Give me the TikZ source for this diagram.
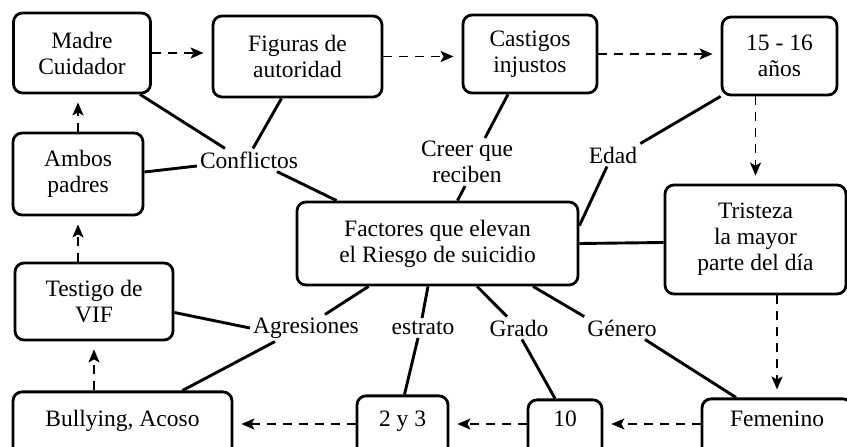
\documentclass[tikz,border=0pt]{standalone}
\usepackage{fontspec}
\setmainfont{Liberation Serif}
\usetikzlibrary{arrows.meta}

\tikzset{
  riesgo/.style={
    x=1pt, y=-1pt,
    every node/.style={font=\fontsize{23.5}{26}\selectfont, align=center},
    caja/.style={
        draw,
        line width=2.8pt,
        rounded corners=9pt,
        inner sep=4pt,
    },
    pie/.style={
        caja,
        anchor=mid,
        text depth=30pt,
    },
    etiqueta/.style={inner sep=3pt},
    liga/.style={line width=2.9pt},
    sigue/.style={
        line width=1.8pt,
        dash pattern=on 9pt off 7pt,
        -{Stealth[length=13pt,width=11pt,inset=3pt]},
        shorten >=8pt,
    }
  }
}

\begin{document}
\begin{tikzpicture}[riesgo]
    \useasboundingbox (0,0) rectangle (847,447);
    \clip (0,0) rectangle (847,447);

    % cajas de arriba
    \node[caja, minimum width=137pt, minimum height=80pt] (madre) at (82,53) {Madre\\Cuidador};
    \node[caja, minimum width=169pt, minimum height=81pt] (figuras) at (297.5,56.5) {Figuras de\\autoridad};
    \node[caja, minimum width=134pt, minimum height=78pt] (cast) at (530,54) {Castigos\\injustos};
    \node[caja, minimum width=115pt, minimum height=78pt] (edadbox) at (779.5,56) {15 - 16\\años};
    \node[caja, minimum width=130pt, minimum height=82pt] (ambos) at (78,174) {Ambos\\padres};
    \node[caja, minimum width=158pt, minimum height=77pt] (testigo) at (94,301.5) {Testigo de\\VIF};
    \node[caja, minimum width=281pt, minimum height=83pt] (fac) at (437.5,243.5) {Factores que elevan\\el Riesgo de suicidio};
    \node[caja, minimum width=181pt, minimum height=109pt] (trist) at (755.5,239.5) {Tristeza\\la mayor\\parte del día};

    % cajas de abajo
    \node[pie, minimum width=219pt, text height=30.4pt] (bully) at (122.5,424) {Bullying, Acoso};
    \node[pie, minimum width=91pt, text height=26.4pt] (dos) at (402.5,424) {2 y 3};
    \node[pie, minimum width=74pt, text height=22.4pt] (diez) at (565,424) {10};
    \node[pie, minimum width=150pt, text height=23.4pt] (fem) at (777,424) {Femenino};

    % etiquetas
    \node[etiqueta] (conf) at (249,160) {Conflictos};
    \node[etiqueta] (creer) at (467,162) {Creer que\\reciben};
    \node[etiqueta] (edad) at (613,155) {Edad};
    \node[etiqueta] (agr) at (306,328) {Agresiones};
    \node[etiqueta] (estr) at (423,328) {estrato};
    \node[etiqueta] (grado) at (519,328) {Grado};
    \node[etiqueta] (gen) at (622,328) {Género};

    % lineas
    \draw[liga] ([xshift=58pt]madre.south) -- ([xshift=-24pt]conf.north);
    \draw[liga] ([xshift=-16pt]figuras.south) -- ([xshift=4pt]conf.north);
    \draw[liga] ([yshift=2pt]ambos.east) -- ([yshift=-6pt]conf.west);
    \draw[liga] ([xshift=28pt]conf.south) -- ([xshift=41pt]fac.north west);
    \draw[liga] ([xshift=-22pt]cast.south) -- ([xshift=18pt]creer.north);
    \draw[liga] ([xshift=-2pt]creer.south) -- ([xshift=20pt]fac.north);
    \draw[liga] (edadbox.south west) -- (edad.north east);
    \draw[liga] ([xshift=-6pt]edad.south) -- ([yshift=-25pt]fac.north east);
    \draw[liga] (fac.east) -- ([yshift=-3pt]trist.west);
    \draw[liga] ([xshift=73pt]fac.south west) -- ([xshift=19pt]agr.north);
    \draw[liga] ([yshift=-11pt]testigo.east) -- (agr.west);
    \draw[liga] ([xshift=-31pt]agr.south) -- ([xshift=60pt]bully.north);
    \draw[liga] ([xshift=-9.5pt]fac.south) -- ([xshift=-1pt]estr.north);
    \draw[liga] ([xshift=-5pt]estr.south) -- ([xshift=2pt]dos.north);
    \draw[liga] ([xshift=39.5pt]fac.south) -- ([xshift=-12pt]grado.north);
    \draw[liga] ([xshift=3pt]grado.south) -- ([xshift=-10pt]diez.north);
    \draw[liga] ([xshift=95.5pt]fac.south) -- (gen.north west);
    \draw[liga] ([xshift=23pt]gen.south) -- ([xshift=-41pt]fem.north);

    % flechas
    \draw[sigue] (madre.east) -- (madre.east -| figuras.west);
    \draw[sigue] (figuras.east) -- (figuras.east -| cast.west);
    \draw[sigue] (cast.east) -- (cast.east -| edadbox.west);
    \draw[sigue] (trist.north |- edadbox.south) -- (trist.north);
    \draw[sigue] (fem.north |- trist.south) -- (fem.north);
    \draw[sigue] (fem.mid west) -- (diez.mid east);
    \draw[sigue] (diez.mid west) -- (dos.mid east);
    \draw[sigue] (dos.mid west) -- (bully.mid east);
    \draw[sigue] (testigo.south |- bully.north) -- (testigo.south);
    \draw[sigue] (ambos.south |- testigo.north) -- (ambos.south);
    \draw[sigue] (ambos.north) -- (ambos.north |- madre.south);
\end{tikzpicture}
\end{document}
